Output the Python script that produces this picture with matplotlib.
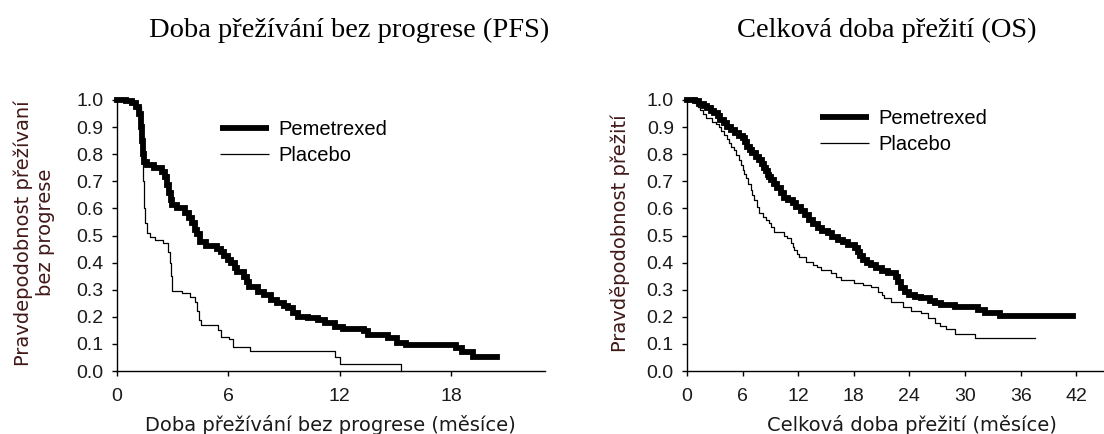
import matplotlib
matplotlib.use("Agg")
import matplotlib.pyplot as plt
from matplotlib.ticker import FormatStrFormatter

# ---------------- data ----------------
pfs_pem_t = [0, 0.5, 0.8, 1.05, 1.2, 1.3, 1.36, 1.42, 1.47, 1.65, 2.0, 2.45, 2.6, 2.7, 2.8, 2.9,
             3.0, 3.25, 3.7, 3.9, 4.07, 4.2, 4.3, 4.5, 4.8, 5.4, 5.6, 5.8, 6.0, 6.15, 6.35, 6.5,
             6.85, 7.0, 7.15, 7.6, 7.95, 8.3, 8.65, 9.0, 9.2, 9.5, 9.75, 10.3, 10.85, 11.2, 11.75,
             12.2, 13.3, 13.55, 14.6, 15.1, 15.55, 18.25, 18.6, 19.2, 20.5]
pfs_pem_s = [1.0, 0.995, 0.988, 0.975, 0.95, 0.90, 0.85, 0.80, 0.77, 0.76, 0.748, 0.735, 0.715,
             0.685, 0.656, 0.63, 0.613, 0.60, 0.583, 0.565, 0.545, 0.52, 0.505, 0.475, 0.46, 0.452,
             0.44, 0.425, 0.41, 0.397, 0.38, 0.366, 0.348, 0.33, 0.31, 0.293, 0.28, 0.262, 0.25,
             0.24, 0.231, 0.215, 0.20, 0.194, 0.188, 0.178, 0.163, 0.155, 0.148, 0.133, 0.121,
             0.105, 0.095, 0.085, 0.071, 0.050, 0.050]

pfs_pla_t = [0, 0.8, 1.1, 1.3, 1.38, 1.42, 1.45, 1.54, 1.63, 1.8, 2.08, 2.5, 2.75, 2.85, 2.9,
             2.98, 3.5, 3.95, 4.2, 4.35, 4.45, 4.55, 5.45, 5.6, 6.05, 6.25, 7.2, 11.75, 12.0,
             15.3, 15.3]
pfs_pla_s = [1.0, 0.99, 0.975, 0.95, 0.80, 0.70, 0.60, 0.545, 0.508, 0.496, 0.483, 0.471, 0.44,
             0.40, 0.35, 0.295, 0.287, 0.274, 0.256, 0.22, 0.19, 0.168, 0.152, 0.127, 0.118,
             0.090, 0.075, 0.052, 0.025, 0.0, 0.0]

os_pem_t = [0, 0.9, 1.3, 1.8, 2.2, 2.6, 2.9, 3.3, 3.6, 4.0, 4.3, 4.8, 5.2, 5.6, 6.0, 6.25, 6.5,
            6.8, 7.05, 7.4, 7.8, 8.05, 8.3, 8.5, 8.7, 8.9, 9.05, 9.4, 9.75, 10.1, 10.5, 10.9,
            11.4, 11.8, 12.3, 12.7, 13.2, 13.6, 14.1, 14.6, 15.2, 15.7, 16.3, 16.8, 17.35, 18.1,
            18.4, 18.7, 19.0, 19.4, 19.9, 20.4, 21.0, 21.7, 22.5, 22.8, 23.1, 23.5, 24.0, 24.6,
            25.3, 26.2, 26.8, 27.4, 28.9, 31.4, 32.2, 33.8, 41.7]
os_pem_s = [1.0, 0.995, 0.985, 0.977, 0.969, 0.96, 0.951, 0.94, 0.926, 0.914, 0.901, 0.89,
            0.877, 0.868, 0.859, 0.845, 0.828, 0.815, 0.803, 0.79, 0.779, 0.762, 0.748, 0.737,
            0.725, 0.715, 0.705, 0.69, 0.674, 0.657, 0.640, 0.63, 0.619, 0.605, 0.590, 0.574,
            0.557, 0.542, 0.527, 0.517, 0.508, 0.496, 0.485, 0.475, 0.465, 0.453, 0.44, 0.425,
            0.41, 0.398, 0.39, 0.38, 0.37, 0.36, 0.348, 0.33, 0.305, 0.29, 0.280, 0.272, 0.268,
            0.259, 0.252, 0.244, 0.235, 0.225, 0.215, 0.203, 0.203]

os_pla_t = [0, 0.9, 1.2, 1.45, 1.7, 2.0, 2.7, 3.1, 3.4, 3.7, 4.0, 4.3, 4.5, 4.8, 5.05, 5.3, 5.6,
            5.8, 6.0, 6.2, 6.35, 6.6, 6.9, 7.05, 7.25, 7.5, 7.75, 8.15, 8.5, 8.85, 9.1, 9.4, 10.5,
            10.8, 11.2, 11.4, 11.6, 11.85, 12.1, 12.85, 13.55, 14.0, 14.45, 15.55, 16.1, 16.6,
            18.05, 19.0, 19.9, 20.6, 21.0, 21.3, 22.0, 23.3, 24.2, 25.3, 26.0, 26.75, 27.3, 28.0,
            28.9, 31.1, 37.5]
os_pla_s = [1.0, 0.99, 0.975, 0.963, 0.948, 0.932, 0.920, 0.91, 0.901, 0.886, 0.871, 0.855,
            0.840, 0.828, 0.815, 0.797, 0.779, 0.76, 0.742, 0.727, 0.711, 0.69, 0.668, 0.65,
            0.631, 0.605, 0.582, 0.569, 0.557, 0.545, 0.53, 0.514, 0.50, 0.49, 0.471, 0.458,
            0.445, 0.432, 0.422, 0.403, 0.391, 0.382, 0.373, 0.360, 0.348, 0.336, 0.324, 0.318,
            0.31, 0.29, 0.28, 0.27, 0.255, 0.237, 0.222, 0.213, 0.195, 0.176, 0.165, 0.154,
            0.137, 0.121, 0.121]

series_labels = ["Pemetrexed", "Placebo"]
titles = ["Doba přežívání bez progrese (PFS)", "Celková doba přežití (OS)"]
xlabels = ["Doba přežívání bez progrese (měsíce)", "Celková doba přežití (měsíce)"]
ylabels = ["Pravdepodobnost přežívaní\nbez progrese", "Pravděpodobnost přežití"]
pfs_xticks = [0, 6, 12, 18]
os_xticks = [0, 6, 12, 18, 24, 30, 36, 42]
yticks = [0.0, 0.1, 0.2, 0.3, 0.4, 0.5, 0.6, 0.7, 0.8, 0.9, 1.0]

# ---------------- figure ----------------
W, H = 1104, 434
fig = plt.figure(figsize=(W / 100, H / 100), dpi=100)

def px_axes(x0, x1, ytop, ybot):
    return fig.add_axes([x0 / W, 1 - ybot / H, (x1 - x0) / W, (ybot - ytop) / H])

ax1 = px_axes(116.7, 545, 100, 371)
ax2 = px_axes(687, 1104, 100, 371)

tick_family = ["Liberation Sans", "DejaVu Sans"]
tick_size = 14
label_font = ["DejaVu Sans"]

def style(ax, xmax, xticks):
    ax.set_xlim(0, xmax)
    ax.set_ylim(0, 1.0)
    for s in ["top", "right"]:
        ax.spines[s].set_visible(False)
    for s in ["left", "bottom"]:
        ax.spines[s].set_linewidth(1.0)
        ax.spines[s].set_color("black")
    ax.set_xticks(xticks)
    ax.set_yticks(yticks)
    ax.yaxis.set_major_formatter(FormatStrFormatter("%.1f"))
    ax.tick_params(direction="out", length=3.5, width=1.0, colors="black",
                   labelcolor="#1a1a1a")
    ax.tick_params(axis="x", pad=8.5)
    ax.tick_params(axis="y", pad=6)
    for lab in ax.get_xticklabels() + ax.get_yticklabels():
        lab.set_fontfamily(tick_family)
        lab.set_fontsize(tick_size)

# PFS
ax1.step(pfs_pem_t, pfs_pem_s, where="post", color="black", lw=4.2,
         solid_joinstyle="miter", label=series_labels[0], clip_on=False)
ax1.step(pfs_pla_t, pfs_pla_s, where="post", color="black", lw=0.9,
         label=series_labels[1], clip_on=False)
style(ax1, 23.06, pfs_xticks)

# OS
ax2.step(os_pem_t, os_pem_s, where="post", color="black", lw=4.2,
         solid_joinstyle="miter", label=series_labels[0], clip_on=False)
ax2.step(os_pla_t, os_pla_s, where="post", color="black", lw=0.9,
         label=series_labels[1], clip_on=False)
style(ax2, 45.0, os_xticks)

for ax, xl, yl, ylx, xlx, tt, ttx, legx, legy in [
    (ax1, xlabels[0], ylabels[0], -0.193, 0.5, titles[0], 349, 0.241, 0.925),
    (ax2, xlabels[1], ylabels[1], -0.161, 0.54, titles[1], 887, 0.319, 0.968),
]:
    xlab = ax.set_xlabel(xl, fontsize=14, family=label_font, color="#1a1a1a")
    ax.xaxis.set_label_coords(xlx, -0.199)
    xlab.set_va("center")
    ylab = ax.set_ylabel(yl, fontsize=14, family=label_font, color="#401818",
                         multialignment="center")
    ax.yaxis.set_label_coords(ylx, 0.51)
    ylab.set_va("center")
    ylab.set_ha("center")
    fig.text(ttx / W, 1 - 30 / H, tt, ha="center", va="center", fontsize=20.5,
             family=["Liberation Serif", "DejaVu Serif"], color="black")
    leg = ax.legend(loc="upper left", bbox_to_anchor=(legx, legy), frameon=False,
                    handlelength=2.45, handletextpad=0.45, labelspacing=0.35,
                    borderpad=0, borderaxespad=0,
                    prop=dict(family=["Liberation Sans", "DejaVu Sans"], size=14.5))
    for line in leg.get_lines():
        line.set_solid_capstyle("butt")

fig.savefig("out.png", dpi=100)
